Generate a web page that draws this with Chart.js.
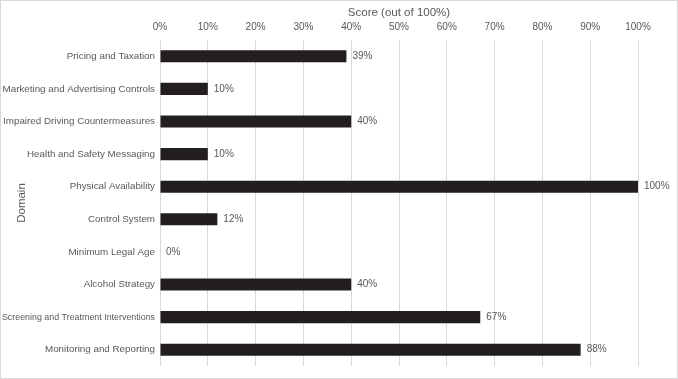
<!DOCTYPE html>
<html><head><meta charset="utf-8">
<script src="https://cdn.jsdelivr.net/npm/chart.js@4.4.1/dist/chart.umd.min.js"></script>
<style>
html,body{margin:0;padding:0;background:#fff;}
#wrap{position:relative;width:678px;height:379px;box-sizing:border-box;border:1px solid #d9d9d9;}
canvas{display:block;}
</style></head><body>
<div id="wrap"><canvas id="c" width="676" height="377"></canvas></div>
<script>
const categories = ["Pricing and Taxation","Marketing and Advertising Controls","Impaired Driving Countermeasures","Health and Safety Messaging","Physical Availability","Control System","Minimum Legal Age","Alcohol Strategy","Screening and Treatment Interventions","Monitoring and Reporting"];
const scores = [39,10,40,10,100,12,0,40,67,88];
const xTicks = [0,10,20,30,40,50,60,70,80,90,100];

const FONT = "'Liberation Sans', Arial, Helvetica, sans-serif";
const measureCtx = document.createElement('canvas').getContext('2d');
function labelSize(i){
  measureCtx.font = "10px " + FONT;
  const w = measureCtx.measureText(categories[i] || '').width;
  return Math.max(8.9, Math.min(9.8, 10 * 153 / w));
}
const labelPlugin = {
  id:'valLabels',
  afterDatasetsDraw(chart){
    const ctx = chart.ctx;
    const meta = chart.getDatasetMeta(0);
    ctx.save();
    ctx.font = "10px " + FONT;
    ctx.fillStyle = "#595959";
    ctx.textBaseline = "middle";
    ctx.textAlign = "left";
    meta.data.forEach((bar,i)=>{
      ctx.fillText(scores[i] + "%", bar.x + 6, bar.y);
    });
    ctx.restore();
  }
};

new Chart(document.getElementById('c'), {
  type:'bar',
  data:{labels:categories, datasets:[{data:scores, backgroundColor:'#231f20', borderWidth:0, barPercentage:0.37, categoryPercentage:1.0}]},
  options:{
    indexAxis:'y', responsive:false, animation:false,
    layout:{padding:{left:0,right:39,top:2,bottom:12}},
    plugins:{legend:{display:false}, tooltip:{enabled:false}},
    scales:{
      x:{position:'top', min:0, max:100,
        afterBuildTicks(s){ s.ticks = xTicks.map(v=>({value:v})); },
        afterFit(s){ s.height = 37; },
        grid:{color:'#d9d9d9', drawTicks:false, lineWidth:1},
        border:{display:false},
        ticks:{callback:v=>v+'%', color:'#595959', font:{family:FONT,size:10}, padding:7, maxRotation:0},
        title:{display:true, text:'Score (out of 100%)', color:'#595959', font:{family:FONT,size:11.5}, padding:{top:3,bottom:0}}
      },
      y:{
        afterFit(s){ s.width = 159; },
        grid:{display:false, drawTicks:false},
        border:{display:false},
        ticks:{color:'#595959', font:(c)=>({family:FONT,size:labelSize(c.index)}), padding:5, autoSkip:false},
        title:{display:true, text:'Domain', color:'#595959', font:{family:FONT,size:11.5}, padding:{top:14,bottom:0}}
      }
    }
  },
  plugins:[labelPlugin]
});
</script>
</body></html>
